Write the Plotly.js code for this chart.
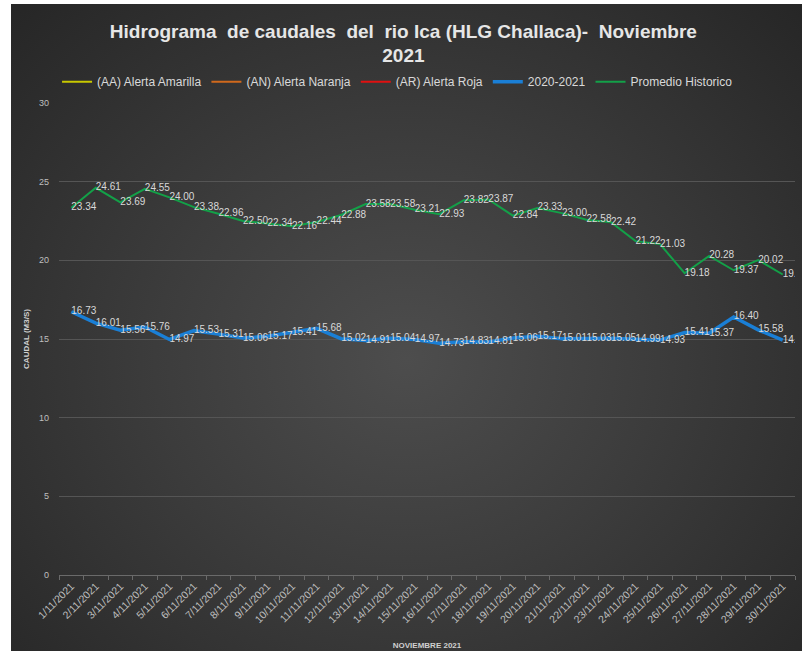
<!DOCTYPE html>
<html>
<head>
<meta charset="utf-8">
<script src="https://cdn.plot.ly/plotly-3.0.1.min.js"></script>
<style>
  html, body { margin:0; padding:0; background:#ffffff; width:802px; height:651px; overflow:hidden; }
  #bg { position:absolute; left:11px; top:4px; width:791px; height:647px;
        background: radial-gradient(ellipse at 50% 55%, #4d4d4d 0%, #3c3c3c 45%, #262626 100%); }
  #chart { position:absolute; left:0; top:0; width:802px; height:651px; }
</style>
</head>
<body>
<div id="bg"></div>
<div id="chart"></div>
<script>
// Categories (days of November 2021)
const dias = [
  "1/11/2021","2/11/2021","3/11/2021","4/11/2021","5/11/2021","6/11/2021","7/11/2021","8/11/2021","9/11/2021","10/11/2021",
  "11/11/2021","12/11/2021","13/11/2021","14/11/2021","15/11/2021","16/11/2021","17/11/2021","18/11/2021","19/11/2021","20/11/2021",
  "21/11/2021","22/11/2021","23/11/2021","24/11/2021","25/11/2021","26/11/2021","27/11/2021","28/11/2021","29/11/2021","30/11/2021"
];

// Series values
const serie2020_2021 = [
  16.73, 16.01, 15.56, 15.76, 14.97, 15.53, 15.31, 15.06, 15.17, 15.41,
  15.68, 15.02, 14.91, 15.04, 14.97, 14.73, 14.83, 14.81, 15.06, 15.17,
  15.01, 15.03, 15.05, 14.99, 14.93, 15.41, 15.37, 16.40, 15.58, 14.93
];
const promedioHistorico = [
  23.34, 24.61, 23.69, 24.55, 24.00, 23.38, 22.96, 22.50, 22.34, 22.16,
  22.44, 22.88, 23.58, 23.58, 23.21, 22.93, 23.82, 23.87, 22.84, 23.33,
  23.00, 22.58, 22.42, 21.22, 21.03, 19.18, 20.28, 19.37, 20.02, 19.10
];
// Alert thresholds: no values visible within the chart (legend only)
const alertaAmarilla = [null];
const alertaNaranja = [null];
const alertaRoja = [null];

const yTicks = [0, 5, 10, 15, 20, 25, 30];

const FONT = "Liberation Sans, Arial, sans-serif";
const TXT = "#d9d9d9";

const labelTxt = arr => arr.map(v => v.toFixed(2));

const traces = [
  { name: "(AA) Alerta Amarilla", x: dias.slice(0, alertaAmarilla.length), y: alertaAmarilla, type: "scatter", mode: "lines",
    line: { color: "#c8c800", width: 2 } },
  { name: "(AN) Alerta Naranja", x: dias.slice(0, alertaNaranja.length), y: alertaNaranja, type: "scatter", mode: "lines",
    line: { color: "#d0691c", width: 2 } },
  { name: "(AR) Alerta Roja", x: dias.slice(0, alertaRoja.length), y: alertaRoja, type: "scatter", mode: "lines",
    line: { color: "#e01010", width: 2 } },
  { name: "2020-2021", x: dias, y: serie2020_2021, type: "scatter", mode: "lines+text",
    line: { color: "#1a7fd6", width: 3.5 },
    text: labelTxt(serie2020_2021), textposition: "middle right",
    textfont: { family: FONT, size: 10, color: TXT } },
  { name: "Promedio Historico", x: dias, y: promedioHistorico, type: "scatter", mode: "lines+text",
    line: { color: "#13a048", width: 2 },
    text: labelTxt(promedioHistorico), textposition: "middle right",
    textfont: { family: FONT, size: 10, color: TXT } }
];

const layout = {
  width: 802, height: 651,
  paper_bgcolor: "rgba(0,0,0,0)",
  plot_bgcolor: "rgba(0,0,0,0)",
  margin: { l: 59, r: 7, t: 103, b: 76 },
  font: { family: FONT, color: TXT },
  showlegend: true,
  title: {
    text: "<b>Hidrograma  de caudales  del  rio Ica (HLG Challaca)-  Noviembre<br>2021</b>",
    font: { family: FONT, size: 19, color: "#e6e6e6" },
    x: 0.503, xanchor: "center", xref: "container",
    y: 0.942, yanchor: "top", yref: "container"
  },
  legend: {
    orientation: "h", x: 0.46, xanchor: "center", xref: "paper",
    y: 1.045, yanchor: "middle",
    font: { family: FONT, size: 12, color: TXT },
    itemwidth: 30, bgcolor: "rgba(0,0,0,0)",
    traceorder: "normal"
  },
  xaxis: {
    type: "category",
    categoryorder: "array", categoryarray: dias,
    range: [-0.5, dias.length - 0.5],
    tickangle: -45,
    tickfont: { family: FONT, size: 10.5, color: "#bfbfbf" },
    ticks: "outside", ticklen: 4, tickcolor: "#6a6a6a", tickson: "boundaries",
    showline: true, linecolor: "#6a6a6a", linewidth: 1,
    showgrid: false, zeroline: false,
    title: { text: "<b>NOVIEMBRE 2021</b>", font: { family: FONT, size: 8, color: "#d0d0d0" }, standoff: 18 }
  },
  yaxis: {
    range: [0, 30],
    tickvals: yTicks,
    tickfont: { family: FONT, size: 9, color: "#bfbfbf" },
    ticks: "", ticklabelstandoff: 9,
    showgrid: true, gridcolor: "#555555", gridwidth: 1,
    zeroline: false, showline: false,
    title: { text: "<b>CAUDAL (M3/S)</b>", font: { family: FONT, size: 8, color: "#d0d0d0" }, standoff: 8 }
  }
};

Plotly.newPlot("chart", traces, layout, { displayModeBar: false, staticPlot: true });
</script>
</body>
</html>
